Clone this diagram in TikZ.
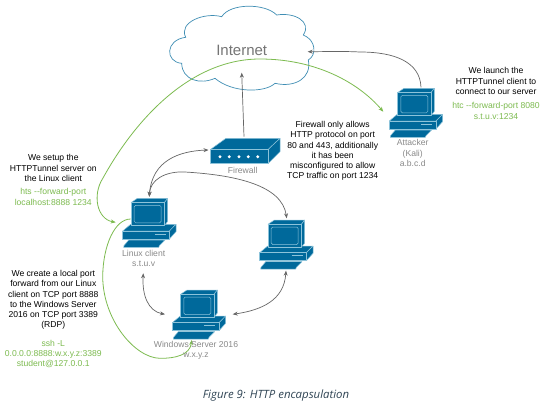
\documentclass[tikz,border=0pt]{standalone}
\usepackage{fontspec}
\setmainfont{Liberation Sans}
\newfontfamily\capfont{Open Sans}
\usetikzlibrary{arrows.meta}
\definecolor{netblue}{HTML}{00699B}
\definecolor{netlight}{HTML}{8CC3DA}
\definecolor{netgreen}{HTML}{7DBB50}
\definecolor{netgrey}{HTML}{8A8A8A}
\definecolor{linegrey}{HTML}{666666}
\definecolor{capblue}{HTML}{2F4454}
\tikzset{
  box/.style={fill=netblue,draw=netlight,line width=.5pt,line join=round},
  note/.style={align=center,font=\fontsize{8.6}{10.3}\selectfont,inner sep=0pt},
  greennote/.style={note,text=netgreen},
  hostlabel/.style={note,text=netgrey},
  link/.style={draw=linegrey,line width=.7pt,{Stealth[length=5pt,width=4pt]}-{Stealth[length=5pt,width=4pt]}},
  uplink/.style={draw=linegrey,line width=.7pt,-{Stealth[length=5pt,width=4pt]}},
  tunnel/.style={draw=netgreen,line width=.8pt,{Stealth[length=5pt,width=4pt]}-{Stealth[length=5pt,width=4pt]}},
  tunnelb/.style={draw=netgreen,line width=.8pt,-{Stealth[length=5pt,width=4pt]}},
  computer/.pic={
    \path[box] (8.3,4.3) -- (14.7,0) -- (45,0) -- (41.7,4.3) -- cycle;
    \path[box] (41.7,4.3) -- (45,0) -- (45,23) -- (41.7,27.3) -- cycle;
    \path[box] (1.3,47.3) -- (6,41.7) -- (42.3,41.7) -- (36.7,47.3) -- (36,49) -- (1,49) -- cycle;
    \path[box] (0,32.7) -- (8,26) -- (53.3,26) -- (46.7,32.7) -- cycle;
    \path[box] (46.7,32.7) -- (53.3,26) -- (53.3,33.3) -- (46.7,40.7) -- cycle;
    \path[box] (0,32.7) rectangle (46.7,40.7);
    \path[box] (8.3,4.3) rectangle (41.7,27.3);
    \draw[netlight,line width=.5pt,rounded corners=1.5pt] (11.5,7) rectangle (38.5,24.5);
    \draw[netlight,line width=.8pt] (32,35.6) -- (43,35.6);
  }
}
\begin{document}
\begin{tikzpicture}[x=1pt,y=-1pt]
\useasboundingbox (0,0) rectangle (552,408);
\fill[white] (0,0) rectangle (552,408);

% cloud
\draw[draw=netblue!75!white,fill=white,line width=.7pt] (181.7,63.3)
  .. controls (165,62) and (165,40) .. (185.7,37.3) .. controls (178,22) and (205,12) .. (221.7,16.7)
  .. controls (230,3) and (265,3) .. (276.7,15) .. controls (295,12) and (312,22) .. (303.3,35)
  .. controls (316,40) and (317,55) .. (308.3,60) .. controls (312,78) and (295,88) .. (275,83.3)
  .. controls (265,93) and (232,93) .. (215,78.3) .. controls (200,85) and (182,80) .. (181.7,63.3) -- cycle;
\node[font=\fontsize{15}{15}\selectfont,text=netgrey!85!black,inner sep=0pt] (internet) at (241.7,50) {Internet};

% firewall
\path[box] (210.7,149.3) -- (226,138.3) -- (280,138.3) -- (268.3,149.3) -- cycle;
\path[box] (268.3,149.3) -- (280,138.3) -- (280,151.7) -- (268.3,163.3) -- cycle;
\path[box] (210.7,149.3) rectangle (268.3,163.3);
\foreach \dotx in {220,229.3,239,248.3,257.7}
  \fill[white] (\dotx,156.7) circle (1.6);

% computers
\pic at (122.7,198.3) {computer};
\pic at (259.7,220) {computer};
\pic at (172.3,290) {computer};
\pic at (389.3,88.3) {computer};

\coordinate (fwtop) at (244,136.7);
\coordinate (netbottom) at (241.7,72.7);
\coordinate (kalitop) at (421,87.3);
\coordinate (netright) at (307.7,51.7);
\coordinate (fwleft) at (208.5,150);
\coordinate (linuxtop) at (149.3,196.7);
\coordinate (rectop) at (286.7,218.3);
\coordinate (linuxbelow) at (143.3,273.3);
\coordinate (winleft) at (165,314.3);
\coordinate (winright) at (232.7,314.3);
\coordinate (recbelow) at (286,270.7);
\coordinate (linuxleft) at (115.7,222.3);
\coordinate (kalileft) at (383.3,111.7);
\coordinate (linuxside) at (130.7,219);
\coordinate (winbelow) at (191.7,340);

\path[uplink] (fwtop) -- (netbottom);
\path[uplink] (kalitop) .. controls (420,62) and (395,52) .. (360,52) .. controls (340,51) and (325,51.7) .. (netright);
\path[link] (fwleft) .. controls (180,151) and (152,160) .. (linuxtop);
\path[link] (linuxtop) .. controls (150,180) and (165,171) .. (185,172) .. controls (235,175) and (282,185) .. (rectop);
\path[link] (linuxbelow) .. controls (142,295) and (148,311) .. (winleft);
\path[link] (winright) .. controls (262,310) and (284,300) .. (recbelow);
\path[tunnel] (linuxleft) .. controls (97,219) and (92,195) .. (103,178) .. controls (135,120) and (190,59) .. (260,59) .. controls (315,59) and (358,82) .. (kalileft);
\path[tunnelb] (linuxside) .. controls (115,219) and (103,245) .. (102.7,276.7) .. controls (103,320) and (135,358) .. (160,358.3) .. controls (175,358.5) and (190,355) .. (winbelow);

% labels
\node[hostlabel] (fwlabel) at (242.7,170.3) {Firewall};
\node[hostlabel] (linuxlabel) at (143.7,258.3) {Linux client\\s.t.u.v};
\node[hostlabel] (winlabel) at (196,350.5) {Windows Server 2016\\w.x.y.z};
\node[hostlabel] (kalilabel) at (412.7,153) {Attacker\\(Kali)\\a.b.c.d};

\node[note] (setupnote) at (53.3,168) {We setup the\\HTTPTunnel server on\\the Linux client};
\node[greennote] (setupcmd) at (53.3,197) {hts -{}-forward-port\\localhost:8888 1234};
\node[note] (fwdnote) at (53.3,300) {We create a local port\\forward from our Linux\\client on TCP port 8888\\to the Windows Server\\2016 on TCP port 3389\\(RDP)};
\node[greennote] (fwdcmd) at (53.3,354) {ssh -L\\0.0.0.0:8888:w.x.y.z:3389\\student@127.0.0.1};
\node[note] (fwnote) at (332.7,151) {Firewall only allows\\HTTP protocol on port\\80 and 443, additionally\\it has been\\misconfigured to allow\\TCP traffic on port 1234};
\node[note] (launchnote) at (496,81) {We launch the\\HTTPTunnel client to\\connect to our server};
\node[greennote] (launchcmd) at (496,111) {htc -{}-forward-port 8080\\s.t.u.v:1234};
\node[inner sep=0pt,text=capblue,font=\capfont\itshape\fontsize{11.4}{13}\selectfont] (caption) at (276,396) {Figure 9: HTTP encapsulation};
\end{tikzpicture}
\end{document}
